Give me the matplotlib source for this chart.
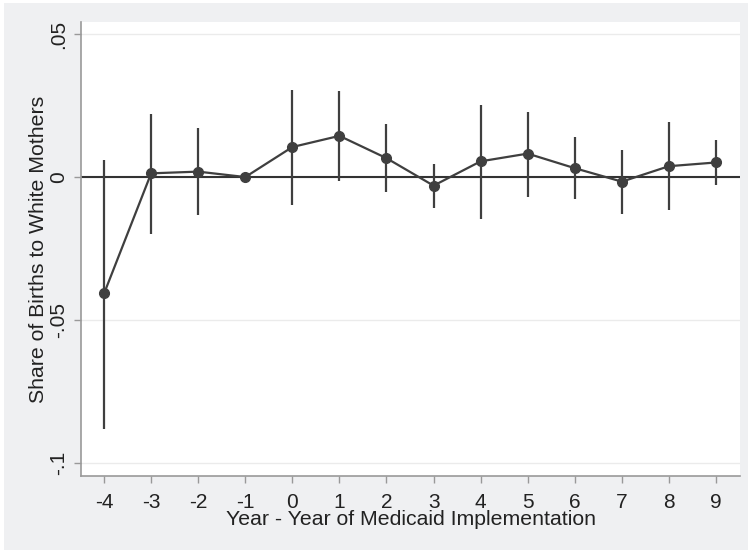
import numpy as np
import matplotlib
matplotlib.use("Agg")
import matplotlib.pyplot as plt
from matplotlib.patches import Rectangle

plt.rcParams['font.family'] = ['Liberation Sans', 'DejaVu Sans']

# event-study estimates with 95% CIs
years = [-4, -3, -2, -1, 0, 1, 2, 3, 4, 5, 6, 7, 8, 9]
coef = [-0.0407, 0.0013, 0.0019, 0.0, 0.0105, 0.0144, 0.0066, -0.0030,
        0.0055, 0.0082, 0.0031, -0.0016, 0.0038, 0.0051]
ci_lo = [-0.0879, -0.0199, -0.0133, np.nan, -0.0098, -0.0013, -0.0051, -0.0108,
         -0.0147, -0.0071, -0.0077, -0.0129, -0.0114, -0.0028]
ci_hi = [0.0059, 0.0221, 0.0170, np.nan, 0.0305, 0.0300, 0.0184, 0.0044,
         0.0252, 0.0228, 0.0139, 0.0094, 0.0193, 0.0130]
ytick_vals = [-0.1, -0.05, 0, 0.05]
ytick_labels = ['-.1', '-.05', '0', '.05']

bg = '#eff0f2'
ink = '#3f3f3f'

fig = plt.figure(figsize=(7.48, 5.5), dpi=100, facecolor='white')
# grey graph region, thin white margin on top and left
fig.patches.append(Rectangle((4 / 748, 0), 1, 1 - 3 / 550, transform=fig.transFigure,
                             facecolor=bg, edgecolor='none', zorder=-10))
ax = fig.add_axes([0.1083, 0.1345, 0.881, 0.8255])
ax.set_facecolor('white')

for y in ytick_vals:
    ax.axhline(y, color='#ebebeb', lw=1, zorder=0)
ax.axhline(0, color='#333333', lw=1.5, zorder=1)

for x, lo, hi in zip(years, ci_lo, ci_hi):
    if not np.isnan(lo):
        ax.vlines(x, lo, hi, color=ink, lw=1.6, zorder=2)
ax.plot(years, coef, color=ink, lw=1.6, marker='o', markersize=7, zorder=3)

ax.set_xlim(-4.49, 9.51)
ax.set_ylim(-0.1045, 0.0542)
ax.set_xticks(years)
ax.set_xticklabels([str(y) for y in years])
ax.set_yticks(ytick_vals)
ax.set_yticklabels(ytick_labels, rotation=90, va='center')

for s in ['top', 'right']:
    ax.spines[s].set_visible(False)
for s in ['left', 'bottom']:
    ax.spines[s].set_color('#999999')
    ax.spines[s].set_linewidth(1.2)
ax.tick_params(axis='both', colors='#999999', length=5, width=1,
               labelsize=15, labelcolor='#222222')
ax.tick_params(axis='x', pad=7)
ax.tick_params(axis='y', pad=4)

ax.set_xlabel('Year - Year of Medicaid Implementation', fontsize=15.3,
              color='#222222', labelpad=-1)
ax.set_ylabel('Share of Births to White Mothers', fontsize=15.3,
              color='#222222', labelpad=1)

fig.savefig('out.png', dpi=100, facecolor='white')
